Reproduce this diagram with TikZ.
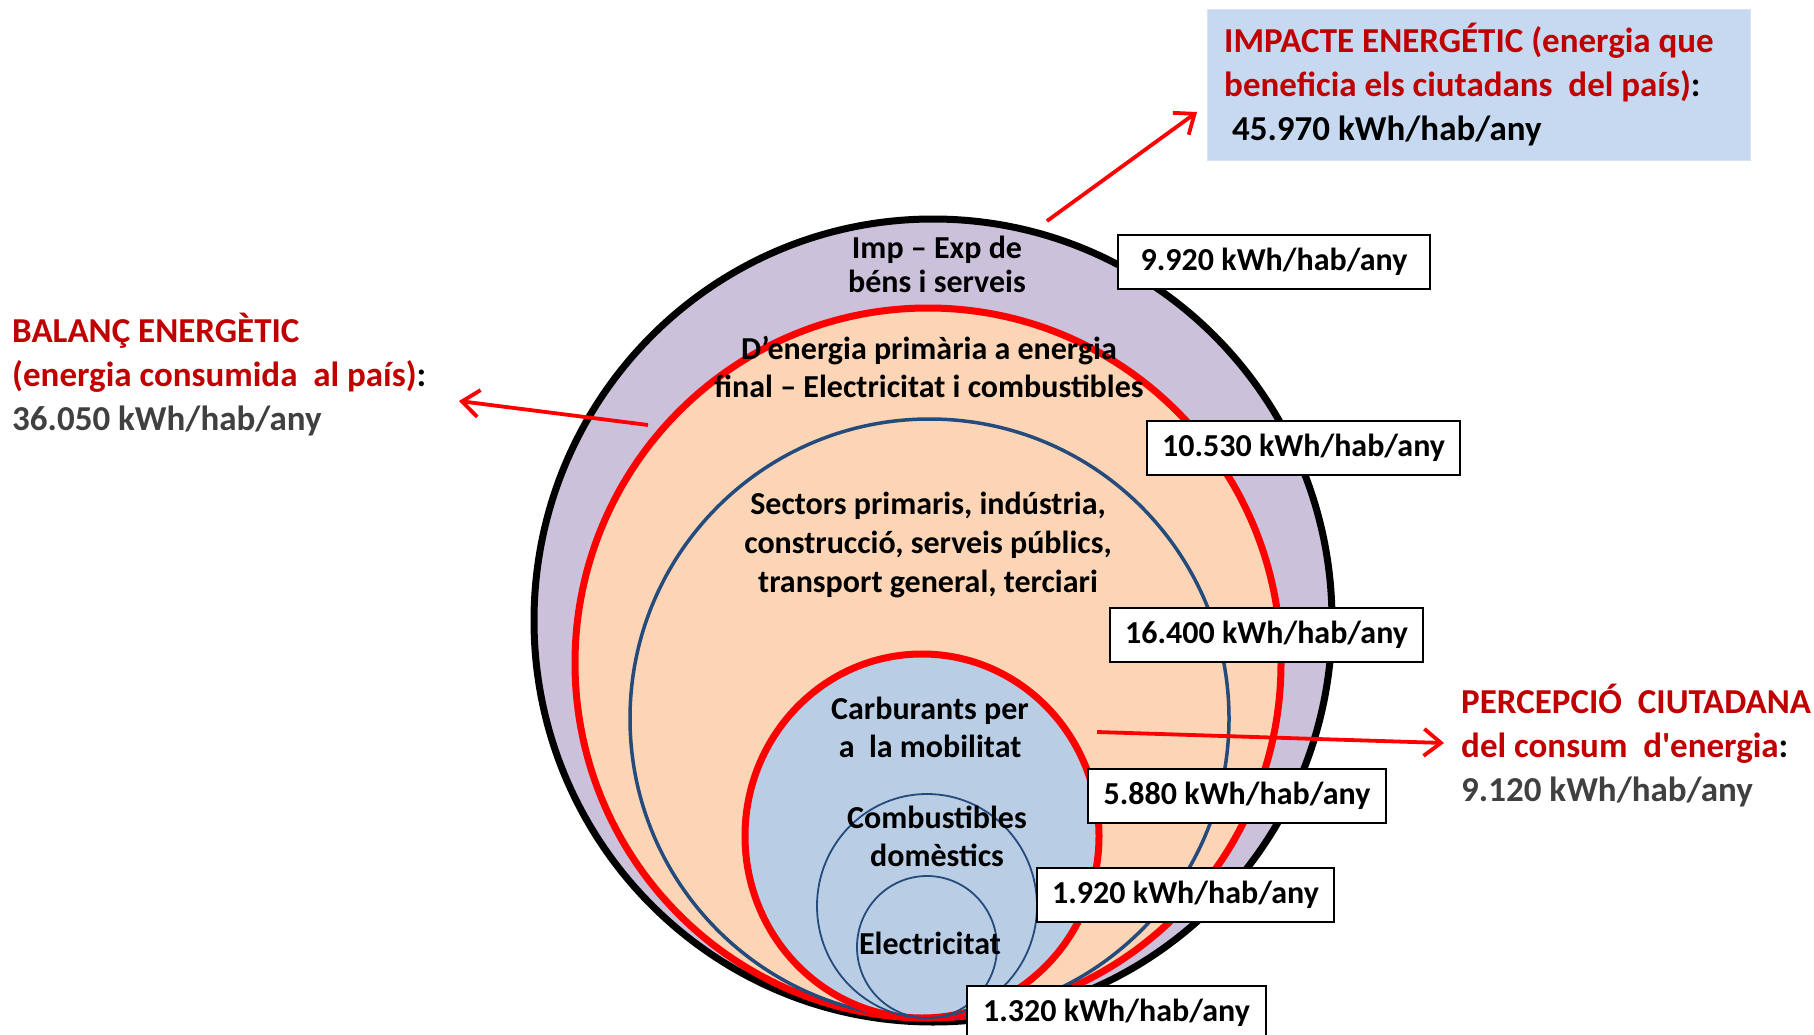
\documentclass[tikz,border=0pt]{standalone}
\usepackage{fontspec}
\setmainfont{Carlito}[Ligatures=TeXOff]
\usetikzlibrary{arrows.meta}

\definecolor{lavender}{HTML}{CCC1DA}
\definecolor{peach}{HTML}{FBD5B5}
\definecolor{paleblue}{HTML}{B9CDE5}
\definecolor{ringblue}{HTML}{254A7C}
\definecolor{titlered}{HTML}{C00000}
\definecolor{darkgray}{HTML}{404040}
\definecolor{notefill}{HTML}{C6D9F1}

\begin{document}
\begin{tikzpicture}[x=1pt,y=-1pt,
  incircle/.style={align=center, font=\fontsize{32}{38}\selectfont\bfseries, text=black, inner sep=0pt},
  valbox/.style={draw=black, line width=2pt, fill=white, minimum width=#1, minimum height=54pt,
    inner sep=0pt, font=\fontsize{32}{38}\selectfont\bfseries},
  sidetext/.style={align=left, anchor=north west, inner sep=0pt, font=\fontsize{35}{44}\selectfont\bfseries},
  pointer/.style={draw=red, line width=3.8pt, -{Straight Barb[length=17pt,width=27pt]}}
]
\path[use as bounding box] (0,0) rectangle (1814,1035);
\clip (0,0) rectangle (1814,1035);

% nested energy rings
\draw[line width=7pt, fill=lavender] (933,620.5) ellipse [x radius=399pt, y radius=401.5pt];
\draw[line width=7pt, draw=red, fill=peach] (928,663) ellipse [x radius=353pt, y radius=355pt];
\draw[line width=3.5pt, draw=ringblue, fill=peach] (929.5,718.5) ellipse [x radius=299.5pt, y radius=299.5pt];
\draw[line width=7pt, draw=red, fill=paleblue] (922,836) ellipse [x radius=177pt, y radius=182pt];
\draw[line width=1.8pt, draw=ringblue] (927,906) ellipse [x radius=110pt, y radius=112pt];
\draw[line width=1.8pt, draw=ringblue] (927,947) ellipse [x radius=70pt, y radius=71pt];

% labels inside the rings
\node[incircle] (impexp) at (937,264) {Imp – Exp de\\[-4pt]béns i serveis};
\node[incircle] (primfin) at (929,367) {D’energia primària a energia\\final – Electricitat i combustibles};
\node[incircle] (sectors) at (928,545) {Sectors primaris, indústria,\\[1pt]construcció, serveis públics,\\[1pt]transport general, terciari};
\node[incircle] (carbur) at (930,727) {Carburants per\\a\ \ la mobilitat};
\node[incircle] (combust) at (937,836) {Combustibles\\domèstics};
\node[incircle] (elec) at (930,943) {Electricitat};

% per-ring values
\node[valbox=312pt] (v1) at (1274,262) {9.920 kWh/hab/any};
\node[valbox=313pt] (v2) at (1303.5,447.5) {10.530 kWh/hab/any};
\node[valbox=313pt] (v3) at (1266.5,634.5) {16.400 kWh/hab/any};
\node[valbox=298pt] (v4) at (1237,796) {5.880 kWh/hab/any};
\node[valbox=297pt] (v5) at (1185.5,895) {1.920 kWh/hab/any};
\node[valbox=299pt] (v6) at (1116.5,1013) {1.320 kWh/hab/any};

% headline notes
\node[fill=notefill, draw=notefill!70!white, line width=1pt, minimum width=543pt, minimum height=151pt,
      anchor=north west] (impbox) at (1207,9) {};
\node[sidetext] (imptext) at (1224,23)
  {\textcolor{titlered}{IMPACTE ENERGÉTIC (energia que}\\
   \textcolor{titlered}{beneficia els ciutadans\ \ del país)}:\\
   \ 45.970 kWh/hab/any};
\node[sidetext] (balanc) at (12,313)
  {\textcolor{titlered}{BALANÇ ENERGÈTIC}\\
   \textcolor{titlered}{(energia consumida\ \ al país)}:\\
   \textcolor{darkgray}{36.050 kWh/hab/any}};
\node[sidetext] (percep) at (1461,684)
  {\textcolor{titlered}{PERCEPCIÓ\ \ CIUTADANA}\\
   \textcolor{titlered}{del consum\ \ d'energia}:\\
   \textcolor{darkgray}{9.120 kWh/hab/any}};

% pointers
\coordinate (fromouter) at (1047,221);
\coordinate (toimp) at (1197,112);
\coordinate (fromred) at (648,425);
\coordinate (tobal) at (459,401);
\coordinate (frominner) at (1097,732);
\coordinate (toperc) at (1444,743);
\draw[pointer] (fromouter) -- (toimp);
\draw[pointer] (fromred) -- (tobal);
\draw[pointer] (frominner) -- (toperc);
\end{tikzpicture}
\end{document}
